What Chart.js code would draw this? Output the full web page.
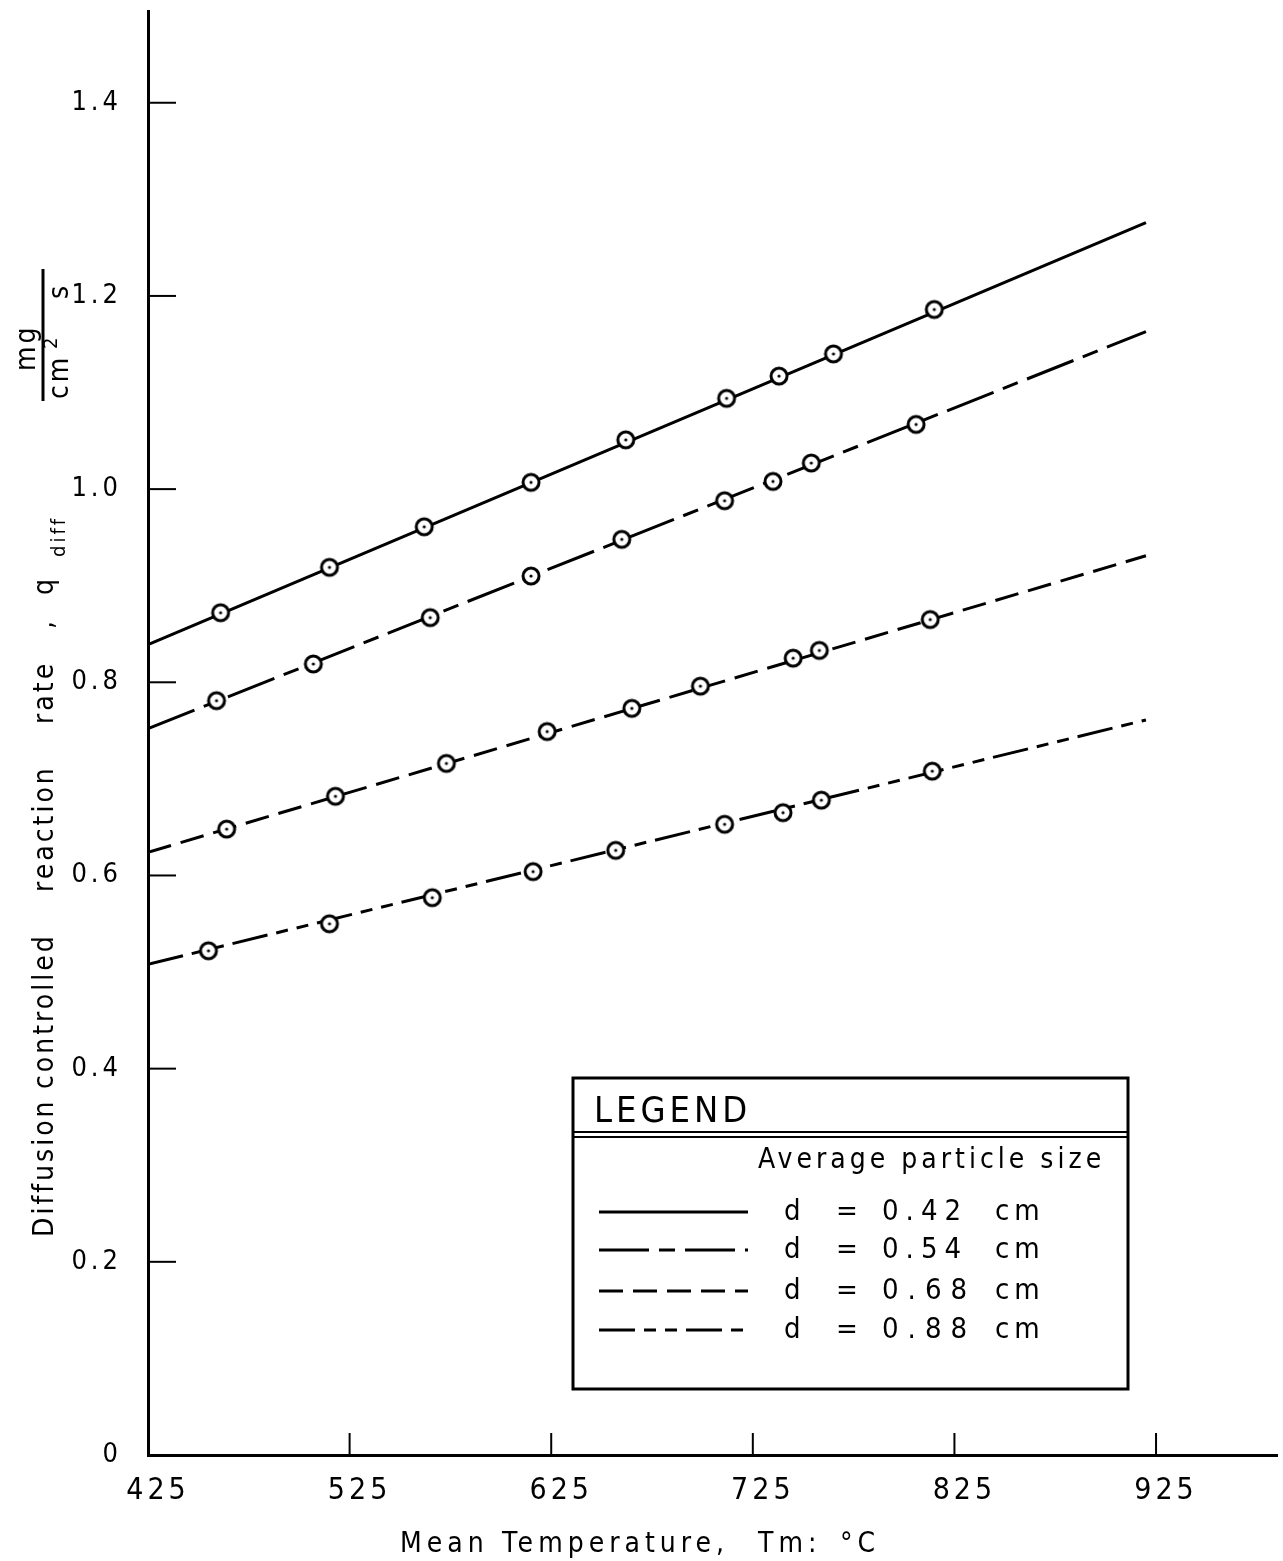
<!DOCTYPE html>
<html>
<head>
<meta charset="utf-8">
<script src="https://cdn.jsdelivr.net/npm/chart.js@4.4.0/dist/chart.umd.min.js"></script>
<style>
  html, body { margin: 0; padding: 0; background: #fff; overflow: hidden; }
  #wrap { width: 1283px; height: 1561px; }
  canvas { display: block; }
</style>
</head>
<body>
<div id="wrap"><canvas id="chart"></canvas></div>
<script>
// Data: mean temperature (°C) vs diffusion controlled rate (mg/cm² s)
const fitTemps = [425, 920];

const temps042 = [461, 515, 562, 615, 662, 712, 738, 765, 815];
const rate042  = [0.872, 0.919, 0.961, 1.007, 1.051, 1.094, 1.117, 1.140, 1.186];
const fit042   = [0.839, 1.276];

const temps054 = [459, 507, 565, 615, 660, 711, 735, 754, 806];
const rate054  = [0.781, 0.819, 0.867, 0.910, 0.948, 0.988, 1.008, 1.027, 1.067];
const fit054   = [0.752, 1.163];

const temps068 = [464, 518, 573, 623, 665, 699, 745, 758, 813];
const rate068  = [0.648, 0.682, 0.716, 0.749, 0.773, 0.796, 0.825, 0.833, 0.865];
const fit068   = [0.624, 0.931];

const temps088 = [455, 515, 566, 616, 657, 711, 740, 759, 814];
const rate088  = [0.522, 0.550, 0.577, 0.604, 0.626, 0.653, 0.665, 0.678, 0.708];
const fit088   = [0.508, 0.761];

const sizeValues = ['0.42', '0.54', '0.68', '0.88'];

const xTicks = [425, 525, 625, 725, 825, 925];
const yTicks = [0, 0.2, 0.4, 0.6, 0.8, 1.0, 1.2, 1.4];
const yTickLabels = ['0', '0.2', '0.4', '0.6', '0.8', '1.0', '1.2', '1.4'];

const FONT = "'DejaVu Sans Condensed', 'Liberation Sans Narrow', 'DejaVu Sans', sans-serif";

// circle with a dot in the middle
function makeMarker() {
  const c = document.createElement('canvas');
  c.width = 24; c.height = 24;
  const g = c.getContext('2d');
  g.beginPath();
  g.arc(12, 12, 8, 0, Math.PI * 2);
  g.fillStyle = '#fff';
  g.fill();
  g.lineWidth = 3;
  g.strokeStyle = '#000';
  g.stroke();
  g.beginPath();
  g.arc(12, 12, 1.6, 0, Math.PI * 2);
  g.fillStyle = '#000';
  g.fill();
  return c;
}
const marker = makeMarker();

const series = [
  { temps: temps042, rates: rate042, fit: fit042, dash: [] },
  { temps: temps054, rates: rate054, fit: fit054, dash: [50, 10, 16, 10] },
  { temps: temps068, rates: rate068, fit: fit068, dash: [24, 10] },
  { temps: temps088, rates: rate088, fit: fit088, dash: [36, 9, 12, 9, 12, 9] }
];

const datasets = [];
series.forEach((s, i) => {
  datasets.push({
    label: 'd = ' + sizeValues[i] + ' cm',
    data: fitTemps.map((t, k) => ({ x: t, y: s.fit[k] })),
    showLine: true,
    borderColor: '#000',
    borderWidth: 3,
    borderDash: s.dash,
    pointRadius: 0,
    fill: false,
    order: 2
  });
  datasets.push({
    label: 'points ' + sizeValues[i],
    data: s.temps.map((t, k) => ({ x: t, y: s.rates[k] })),
    showLine: false,
    pointStyle: marker,
    pointRadius: 12,
    order: 1
  });
});

function line(ctx, x1, y1, x2, y2) {
  ctx.beginPath();
  ctx.moveTo(x1, y1);
  ctx.lineTo(x2, y2);
  ctx.stroke();
}

function words(ctx, list, font, spacing) {
  ctx.font = font;
  ctx.letterSpacing = spacing + 'px';
  list.forEach(w => ctx.fillText(w[0], w[1], w[2]));
}

const figurePlugin = {
  id: 'figure',
  beforeDraw(chart) {
    chart.ctx.letterSpacing = '4px';
  },
  afterDraw(chart) {
    const ctx = chart.ctx;
    const xs = chart.scales.x, ys = chart.scales.y;
    ctx.save();
    ctx.fillStyle = '#000';
    ctx.strokeStyle = '#000';

    // tick marks pointing into the plot
    ctx.lineWidth = 2;
    yTicks.forEach(v => {
      if (v === 0) return;
      const py = ys.getPixelForValue(v);
      line(ctx, xs.left, py, xs.left + 28, py);
    });
    xTicks.forEach(t => {
      if (t === xTicks[0]) return;
      const px = xs.getPixelForValue(t);
      line(ctx, px, ys.bottom, px, ys.bottom - 22);
    });

    // x axis title
    ctx.textBaseline = 'alphabetic';
    ctx.textAlign = 'left';
    words(ctx, [['Mean', 400, 1552], ['Temperature,', 502, 1552], ['Tm:', 758, 1552], ['°C', 840, 1552]],
      '28px ' + FONT, 5);

    // y axis title (rotated)
    ctx.save();
    ctx.translate(53, 1237);
    ctx.rotate(-Math.PI / 2);
    words(ctx, [['Diffusion', 0, 0], ['controlled', 148, 0], ['reaction', 345, 0], ['rate', 513, 0], [',', 608, 0], ['q', 642, 0]],
      '28px ' + FONT, 3);
    words(ctx, [['diff', 680, 12]], '20px ' + FONT, 3);
    ctx.restore();

    // units fraction mg / cm² s
    ctx.save();
    ctx.translate(43, 335);
    ctx.rotate(-Math.PI / 2);
    ctx.lineWidth = 3;
    line(ctx, -66, 0, 66, 0);
    words(ctx, [['mg', -36, -8]], '28px ' + FONT, 3);
    words(ctx, [['cm', -64, 25], ['s', 36, 25]], '28px ' + FONT, 3);
    words(ctx, [['2', -14, 14]], '20px ' + FONT, 0);
    ctx.restore();

    // legend box
    const L = 573, T = 1078, R = 1128, B = 1389;
    ctx.fillStyle = '#fff';
    ctx.fillRect(L, T, R - L, B - T);
    ctx.fillStyle = '#000';
    ctx.lineWidth = 3;
    ctx.strokeRect(L, T, R - L, B - T);
    ctx.lineWidth = 2;
    line(ctx, L, 1132, R, 1132);
    line(ctx, L, 1137, R, 1137);
    words(ctx, [['LEGEND', 594, 1122]], '36px ' + FONT, 4);
    words(ctx, [['Average particle size', 758, 1168]], '28px ' + FONT, 4);

    const rowY = [1212, 1250, 1291, 1330];
    const valueSpacing = [7, 7, 9, 9];
    ctx.textBaseline = 'middle';
    series.forEach((s, i) => {
      const y = rowY[i];
      ctx.lineWidth = 3;
      ctx.setLineDash(s.dash);
      line(ctx, 599, y, 748, y);
      ctx.setLineDash([]);
      words(ctx, [['d', 784, y], ['=', 836, y]], '29px ' + FONT, 2);
      words(ctx, [[sizeValues[i], 882, y]], '29px ' + FONT, valueSpacing[i]);
      words(ctx, [['cm', 995, y]], '29px ' + FONT, 5);
    });
    ctx.restore();
  }
};

new Chart(document.getElementById('chart'), {
  type: 'scatter',
  data: { datasets },
  options: {
    responsive: true,
    maintainAspectRatio: false,
    animation: false,
    layout: { autoPadding: false, padding: { top: 11, right: 6, left: 0, bottom: 0 } },
    plugins: {
      legend: { display: false },
      tooltip: { enabled: false },
      title: { display: false }
    },
    scales: {
      x: {
        type: 'linear',
        min: 425,
        max: 985,
        afterFit(s) {
          s.height = 106;
          s.paddingLeft = 0; s.paddingRight = 0;
        },
        afterBuildTicks(s) { s.ticks = xTicks.map(v => ({ value: v })); },
        grid: { display: false, drawTicks: false },
        border: { display: true, color: '#000', width: 3 },
        ticks: {
          color: '#000',
          font: { family: FONT, size: 30 },
          padding: 18,
          labelOffset: 10,
          maxRotation: 0,
          callback: v => String(v)
        }
      },
      y: {
        type: 'linear',
        min: 0,
        max: 1.495,
        afterFit(s) {
          s.width = 148;
          s.paddingTop = 0; s.paddingBottom = 0;
        },
        afterBuildTicks(s) { s.ticks = yTicks.map(v => ({ value: v })); },
        grid: { display: false, drawTicks: false },
        border: { display: true, color: '#000', width: 3 },
        ticks: {
          color: '#000',
          font: { family: FONT, size: 27 },
          padding: 26,
          callback: v => yTickLabels[yTicks.findIndex(t => Math.abs(t - v) < 1e-6)]
        }
      }
    }
  },
  plugins: [figurePlugin]
});
</script>
</body>
</html>
